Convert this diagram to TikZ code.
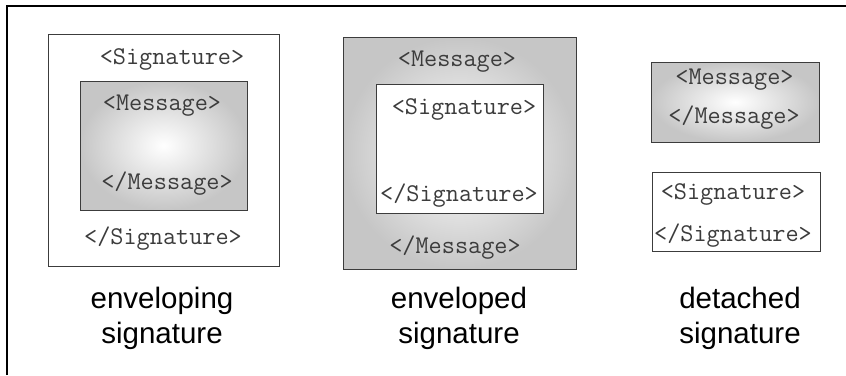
\documentclass[tikz,border=0pt]{standalone}
\usepackage{fontspec}
\usepackage{tikz}
\newfontfamily\capfont{Liberation Sans}
\definecolor{tagtext}{RGB}{60,60,60}
\definecolor{boxedge}{RGB}{60,60,60}
\definecolor{msgrim}{RGB}{198,198,198}

\begin{document}
\begin{tikzpicture}[
    x=1pt, y=-1pt,
    msgbox/.style={draw=boxedge, line width=1pt, inner color=white, outer color=msgrim},
    sigbox/.style={draw=boxedge, line width=1pt, fill=white},
    tag/.style={font=\ttfamily\fontsize{25.5}{30}\selectfont, text=tagtext, anchor=base, inner sep=0pt},
    caption/.style={font=\capfont\fontsize{29.5}{35}\selectfont, align=center, inner sep=0pt},
]
    \useasboundingbox (0,0) rectangle (846,375);

    % Frame (top and left only)
    \draw[line width=2.2pt] (7,375) -- (7,6) -- (846,6);

    % Enveloping: signature wraps message
    \draw[sigbox] (48,34) rectangle (279,266);
    \draw[msgbox] (80,81) rectangle (247,210);
    \node[tag] (envg-sig-open)  at (172,64.5)  {<Signature>};
    \node[tag] (envg-msg-open)  at (162,110.5) {<Message>};
    \node[tag] (envg-msg-close) at (167,189.5) {</Message>};
    \node[tag] (envg-sig-close) at (163,244.5) {</Signature>};
    \node[caption] (envg-cap) at (162,318) {enveloping\\signature};

    % Enveloped: message wraps signature
    \draw[msgbox] (343,37) rectangle (576,269);
    \draw[sigbox] (376,84) rectangle (543,213);
    \node[tag] (envd-msg-open)  at (457,66.5)  {<Message>};
    \node[tag] (envd-sig-open)  at (464,114.5) {<Signature>};
    \node[tag] (envd-sig-close) at (459,201.5) {</Signature>};
    \node[tag] (envd-msg-close) at (455,253.5) {</Message>};
    \node[caption] (envd-cap) at (459,318) {enveloped\\signature};

    % Detached: two separate boxes
    \draw[msgbox] (651,62) rectangle (819,142);
    \draw[sigbox] (652,172) rectangle (820,251);
    \node[tag] (det-msg-open)  at (734.5,84.5)  {<Message>};
    \node[tag] (det-msg-close) at (734,123.5)   {</Message>};
    \node[tag] (det-sig-open)  at (733,199.5)   {<Signature>};
    \node[tag] (det-sig-close) at (733,241.5)   {</Signature>};
    \node[caption] (det-cap) at (740,318) {detached\\signature};
\end{tikzpicture}
\end{document}
